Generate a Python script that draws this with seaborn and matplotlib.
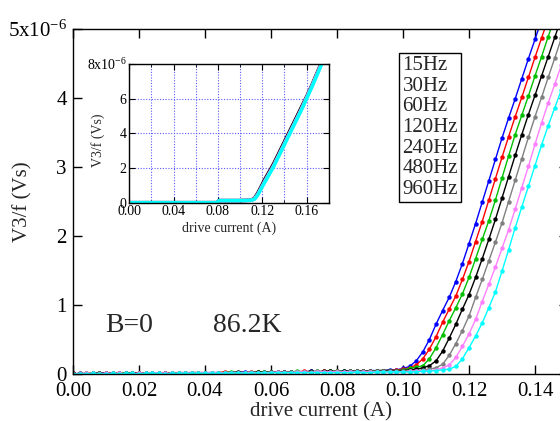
import matplotlib
matplotlib.use("Agg")
import numpy as np
import pandas as pd
import matplotlib.pyplot as plt
import seaborn as sns
from matplotlib.ticker import MultipleLocator, FuncFormatter

# ---------------- data (V3/f in units of 1e-6 Vs) ----------------
frequencies = ["15Hz", "30Hz", "60Hz", "120Hz", "240Hz", "480Hz", "960Hz"]
colors = ["#0000ff", "#ff0000", "#00c000", "#000000", "#808080", "#ff80ff", "#00ffff"]

current = [0.000, 0.002, 0.004, 0.006, 0.008, 0.010, 0.012, 0.014, 0.016, 0.018,
           0.020, 0.022, 0.024, 0.026, 0.028, 0.030, 0.032, 0.034, 0.036, 0.038,
           0.040, 0.042, 0.044, 0.046, 0.048, 0.050, 0.052, 0.054, 0.056, 0.058,
           0.060, 0.062, 0.064, 0.066, 0.068, 0.070, 0.072, 0.074, 0.076, 0.078,
           0.080, 0.082, 0.084, 0.086, 0.088, 0.090, 0.092, 0.094, 0.096, 0.098,
           0.100, 0.102, 0.104, 0.106, 0.108, 0.110, 0.112, 0.114, 0.116, 0.118,
           0.120, 0.122, 0.124, 0.126, 0.128, 0.130, 0.132, 0.134, 0.136, 0.138,
           0.140, 0.142, 0.144, 0.146, 0.148, 0.150]

v_15hz = [0.00, 0.01, 0.00, 0.01, 0.01, 0.02, 0.01, 0.01, 0.00, 0.01,
          0.01, 0.01, 0.02, 0.01, 0.01, 0.02, 0.01, 0.02, 0.02, 0.01,
          0.02, 0.02, 0.01, 0.02, 0.02, 0.02, 0.03, 0.02, 0.02, 0.03,
          0.03, 0.02, 0.03, 0.03, 0.03, 0.03, 0.04, 0.03, 0.03, 0.04,
          0.04, 0.04, 0.05, 0.04, 0.04, 0.05, 0.05, 0.05, 0.06, 0.06,
          0.08, 0.11, 0.19, 0.32, 0.50, 0.72, 0.92, 1.11, 1.34, 1.60,
          1.89, 2.18, 2.49, 2.80, 3.11, 3.42, 3.71, 3.99, 4.28, 4.57,
          4.85, 5.13, 5.42, 5.70, 5.98, 6.26]
v_30hz = [0.01, 0.00, 0.01, 0.01, 0.00, 0.01, 0.02, 0.01, 0.01, 0.01,
          0.02, 0.01, 0.01, 0.02, 0.01, 0.02, 0.02, 0.01, 0.02, 0.02,
          0.01, 0.02, 0.02, 0.03, 0.02, 0.02, 0.02, 0.03, 0.03, 0.02,
          0.03, 0.03, 0.03, 0.02, 0.03, 0.04, 0.03, 0.03, 0.04, 0.04,
          0.04, 0.03, 0.04, 0.05, 0.04, 0.04, 0.05, 0.05, 0.05, 0.06,
          0.07, 0.09, 0.13, 0.22, 0.36, 0.54, 0.75, 0.94, 1.13, 1.37,
          1.63, 1.92, 2.21, 2.52, 2.83, 3.14, 3.44, 3.73, 4.01, 4.30,
          4.59, 4.87, 5.15, 5.44, 5.72, 6.00]
v_60hz = [0.00, 0.00, 0.01, 0.01, 0.01, 0.00, 0.01, 0.02, 0.01, 0.01,
          0.01, 0.02, 0.01, 0.01, 0.02, 0.01, 0.01, 0.02, 0.02, 0.02,
          0.01, 0.02, 0.02, 0.02, 0.03, 0.02, 0.02, 0.02, 0.03, 0.03,
          0.03, 0.03, 0.02, 0.03, 0.04, 0.03, 0.03, 0.04, 0.03, 0.04,
          0.04, 0.04, 0.04, 0.04, 0.05, 0.04, 0.05, 0.05, 0.05, 0.05,
          0.06, 0.08, 0.10, 0.12, 0.22, 0.38, 0.57, 0.77, 0.96, 1.16,
          1.40, 1.67, 1.95, 2.22, 2.52, 2.84, 3.16, 3.47, 3.75, 4.03,
          4.32, 4.60, 4.89, 5.17, 5.45, 5.73]
v_120hz = [0.01, 0.00, 0.00, 0.01, 0.01, 0.01, 0.01, 0.00, 0.01, 0.02,
           0.01, 0.01, 0.01, 0.02, 0.01, 0.01, 0.02, 0.02, 0.01, 0.02,
           0.02, 0.01, 0.02, 0.02, 0.02, 0.03, 0.02, 0.02, 0.03, 0.02,
           0.03, 0.03, 0.03, 0.03, 0.02, 0.03, 0.04, 0.03, 0.04, 0.04,
           0.03, 0.04, 0.04, 0.04, 0.05, 0.04, 0.04, 0.05, 0.05, 0.05,
           0.05, 0.06, 0.07, 0.09, 0.12, 0.19, 0.33, 0.52, 0.72, 0.94,
           1.15, 1.40, 1.67, 1.95, 2.24, 2.55, 2.86, 3.17, 3.47, 3.76,
           4.04, 4.32, 4.60, 4.88, 5.16, 5.44]
v_240hz = [0.00, 0.01, 0.01, 0.00, 0.01, 0.01, 0.01, 0.01, 0.01, 0.00,
           0.01, 0.01, 0.02, 0.01, 0.01, 0.01, 0.02, 0.01, 0.02, 0.02,
           0.02, 0.02, 0.01, 0.02, 0.02, 0.02, 0.02, 0.03, 0.02, 0.02,
           0.03, 0.02, 0.03, 0.03, 0.03, 0.03, 0.03, 0.04, 0.03, 0.03,
           0.04, 0.03, 0.04, 0.04, 0.04, 0.04, 0.04, 0.04, 0.04, 0.04,
           0.04, 0.05, 0.05, 0.06, 0.07, 0.09, 0.14, 0.27, 0.44, 0.63,
           0.84, 1.11, 1.37, 1.64, 1.91, 2.19, 2.50, 2.81, 3.12, 3.43,
           3.73, 4.01, 4.30, 4.58, 4.87, 5.15]
v_480hz = [0.00, 0.00, 0.01, 0.01, 0.00, 0.01, 0.01, 0.01, 0.00, 0.01,
           0.01, 0.01, 0.01, 0.02, 0.01, 0.01, 0.01, 0.02, 0.01, 0.01,
           0.02, 0.02, 0.02, 0.01, 0.02, 0.02, 0.02, 0.02, 0.02, 0.02,
           0.02, 0.03, 0.02, 0.02, 0.03, 0.03, 0.02, 0.03, 0.03, 0.03,
           0.03, 0.03, 0.03, 0.03, 0.03, 0.03, 0.03, 0.03, 0.03, 0.03,
           0.03, 0.04, 0.04, 0.05, 0.05, 0.06, 0.09, 0.13, 0.24, 0.40,
           0.58, 0.79, 1.05, 1.30, 1.55, 1.82, 2.09, 2.39, 2.70, 3.01,
           3.33, 3.64, 3.93, 4.20, 4.48, 4.76]
v_960hz = [0.00, 0.00, 0.00, 0.01, 0.00, 0.00, 0.01, 0.00, 0.01, 0.01,
           0.00, 0.01, 0.01, 0.01, 0.00, 0.01, 0.01, 0.01, 0.01, 0.01,
           0.01, 0.01, 0.01, 0.01, 0.01, 0.02, 0.01, 0.01, 0.02, 0.01,
           0.02, 0.02, 0.02, 0.02, 0.02, 0.02, 0.02, 0.02, 0.02, 0.02,
           0.02, 0.02, 0.02, 0.03, 0.02, 0.02, 0.03, 0.03, 0.03, 0.03,
           0.03, 0.03, 0.03, 0.04, 0.04, 0.05, 0.06, 0.07, 0.11, 0.22,
           0.38, 0.55, 0.74, 0.96, 1.19, 1.49, 1.80, 2.12, 2.42, 2.72,
           3.02, 3.32, 3.60, 3.86, 4.12, 4.38]

# inset (full range, curves collapse onto each other)
inset_current = [0.000, 0.020, 0.040, 0.060, 0.079, 0.081, 0.100, 0.110, 0.113, 0.116,
                 0.119, 0.122, 0.126, 0.130, 0.135, 0.140, 0.145, 0.150, 0.155, 0.160,
                 0.165, 0.170, 0.175]
inset_120hz = [0.00, 0.00, 0.00, 0.00, 0.00, 0.12, 0.12, 0.15, 0.25, 0.55,
               0.92, 1.30, 1.75, 2.20, 2.85, 3.50, 4.15, 4.80, 5.45, 6.10,
               6.80, 7.55, 8.30]
inset_480hz = [0.00, 0.00, 0.00, 0.00, 0.00, 0.12, 0.12, 0.14, 0.22, 0.48,
               0.84, 1.20, 1.66, 2.10, 2.75, 3.40, 4.05, 4.70, 5.35, 6.05,
               6.75, 7.50, 8.25]
inset_960hz = [0.00, 0.00, 0.00, 0.00, 0.00, 0.12, 0.12, 0.14, 0.20, 0.45,
               0.80, 1.15, 1.60, 2.05, 2.70, 3.35, 4.00, 4.65, 5.30, 6.00,
               6.70, 7.45, 8.20]

series = [v_15hz, v_30hz, v_60hz, v_120hz, v_240hz, v_480hz, v_960hz]
df = pd.concat([pd.DataFrame({"current": current, "v": s, "freq": f})
                for f, s in zip(frequencies, series)], ignore_index=True)
inset_df = pd.concat([pd.DataFrame({"current": inset_current, "v": s, "freq": f})
                      for f, s in zip(["120Hz", "480Hz", "960Hz"],
                                      [inset_120hz, inset_480hz, inset_960hz])],
                     ignore_index=True)

# ---------------- style ----------------
sns.set_style("ticks")
plt.rcParams.update({
    "font.family": ["Liberation Serif", "DejaVu Serif"],
    "mathtext.fontset": "custom",
    "mathtext.rm": "Liberation Serif",
    "mathtext.default": "regular",
    "axes.edgecolor": "black",
    "axes.linewidth": 1.0,
    "xtick.color": "black",
    "ytick.color": "black",
    "xtick.direction": "in",
    "ytick.direction": "in",
    "xtick.top": True,
    "ytick.right": True,
})

W, H = 560, 421
fig = plt.figure(figsize=(W / 100, H / 100), dpi=100)
ax = fig.add_axes([73 / W, 1 - 374 / H, 495 / W, 345 / H])

sns.lineplot(data=df, x="current", y="v", hue="freq", hue_order=frequencies,
             palette=colors, marker="o", markersize=3.2, markeredgewidth=0,
             linewidth=1.0, estimator=None, sort=False, legend=False, ax=ax)

ax.set_xlim(0, 0.15)
ax.set_ylim(0, 5)
ax.xaxis.set_major_locator(MultipleLocator(0.02))
ax.yaxis.set_major_locator(MultipleLocator(1))
ax.xaxis.set_major_formatter(FuncFormatter(lambda v, p: f"{v:.2f}"))
ax.yaxis.set_major_formatter(FuncFormatter(
    lambda v, p: "5x10$^{-6}$" if abs(v - 5) < 1e-9 else f"{v:g}"))
ax.tick_params(axis="both", which="major", length=6.5, width=1.0, labelsize=15)
ax.tick_params(axis="x", pad=5.5)
ax.tick_params(axis="y", pad=4.5)
ax.set_xlabel("drive current (A)", fontsize=15, labelpad=1.0)
ax.set_ylabel("V3/f (Vs)", fontsize=15)
ax.yaxis.set_label_coords(-0.081, 0.5)

# legend box (text only)
fig.text(402.5 / W, 1 - 56 / H, "\n".join(frequencies), fontsize=15,
         va="top", ha="left", linespacing=1.12,
         bbox=dict(boxstyle="square,pad=0.15", fc="white", ec="black", lw=1.0))

fig.text(105 / W, 1 - 331.5 / H, "B=0", fontsize=20, va="baseline", ha="left")
fig.text(213 / W, 1 - 331.5 / H, "86.2K", fontsize=20, va="baseline", ha="left")

# ---------------- inset ----------------
iax = fig.add_axes([129.3 / W, 1 - 202.7 / H, 199.4 / W, 138.7 / H])
iax.set_facecolor("white")
sns.lineplot(data=inset_df, x="current", y="v", hue="freq",
             hue_order=["120Hz", "480Hz", "960Hz"],
             palette=["#000000", "#ff80ff", "#00ffff"], linewidth=2.6,
             estimator=None, sort=False, legend=False, ax=iax)
iax.set_xlim(0, 0.18)
iax.set_ylim(0, 8)
iax.xaxis.set_major_locator(MultipleLocator(0.04))
iax.xaxis.set_minor_locator(MultipleLocator(0.02))
iax.yaxis.set_major_locator(MultipleLocator(2))
iax.xaxis.set_major_formatter(FuncFormatter(lambda v, p: f"{v:.2f}"))
iax.yaxis.set_major_formatter(FuncFormatter(
    lambda v, p: "8x10$^{-6}$" if abs(v - 8) < 1e-9 else f"{v:g}"))
iax.grid(True, which="both", axis="x", color="#5a5aff", linestyle=(0, (1, 1.5)), linewidth=0.8)
iax.grid(True, which="major", axis="y", color="#5a5aff", linestyle=(0, (1, 1.5)), linewidth=0.8)
iax.set_axisbelow(True)
iax.tick_params(axis="both", which="major", length=4, width=0.8, labelsize=10, pad=2)
iax.tick_params(axis="both", which="minor", length=2, width=0.6)
iax.set_xlabel("drive current (A)", fontsize=10, labelpad=2)
iax.set_ylabel("V3/f (Vs)", fontsize=10)
iax.yaxis.set_label_coords(-0.122, 0.45)

fig.savefig("out.png", dpi=100)
